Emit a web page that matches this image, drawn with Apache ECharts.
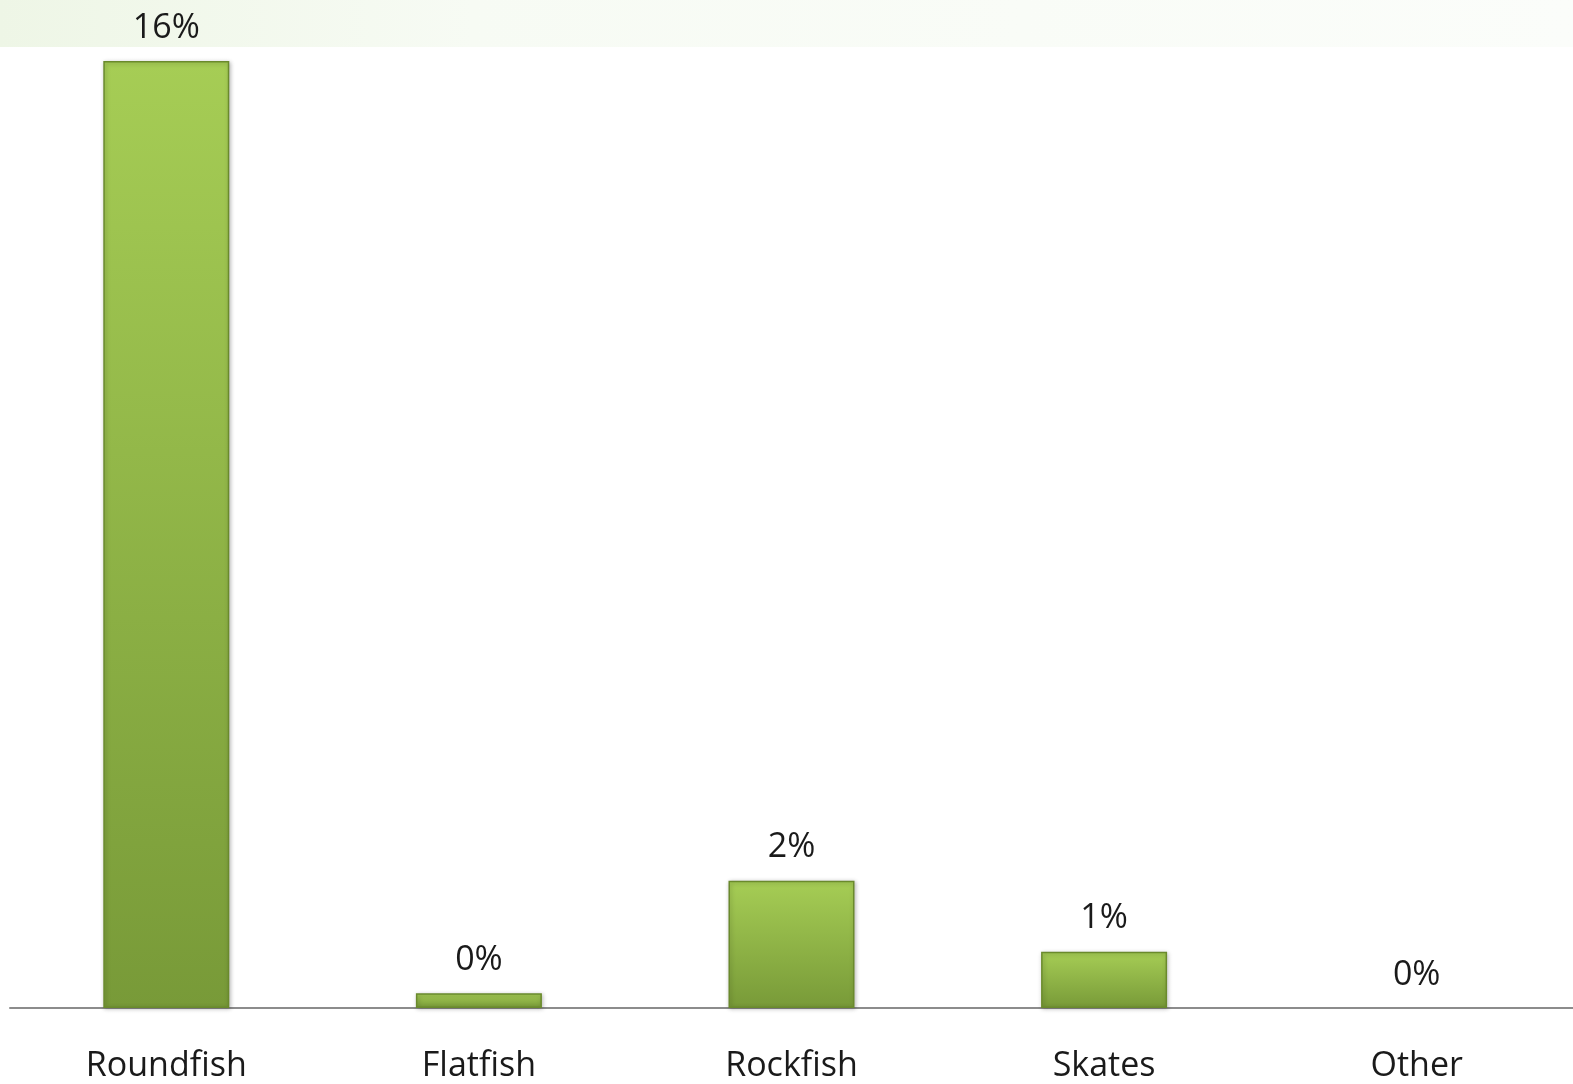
<!DOCTYPE html>
<html>
<head>
<meta charset="utf-8">
<script src="https://cdn.jsdelivr.net/npm/echarts@6/dist/echarts.min.js"></script>
<style>
html,body{margin:0;padding:0;background:#fff;}
#c{width:1573px;height:1084px;}
</style>
</head>
<body>
<div id="c"></div>
<script>
const categories = ['Roundfish', 'Flatfish', 'Rockfish', 'Skates', 'Other'];
const values = [16, 0.25, 2.15, 0.95, 0];
const valueLabels = ['16%', '0%', '2%', '1%', '0%'];

const chart = echarts.init(document.getElementById('c'));
chart.setOption({
  backgroundColor: '#ffffff',
  animation: false,
  graphic: [{
    type: 'rect',
    left: 0, top: 0,
    shape: { width: 1573, height: 47 },
    style: {
      fill: new echarts.graphic.LinearGradient(0, 0, 1, 0, [
        { offset: 0, color: '#eef6e6' },
        { offset: 0.3, color: '#f7fbf4' },
        { offset: 1, color: '#fbfdfa' }
      ])
    },
    z: -10
  }],
  grid: { left: 10, right: 0, top: 61, bottom: 76 },
  xAxis: {
    type: 'category',
    data: categories,
    axisLine: { lineStyle: { color: '#8c8c8c', width: 2 } },
    axisTick: { show: false },
    axisLabel: { fontFamily: 'Open Sans', fontSize: 34, color: '#1a1a1a', margin: 41 }
  },
  yAxis: {
    type: 'value',
    min: 0,
    max: 16,
    show: false,
    splitLine: { show: false }
  },
  series: [{
    type: 'bar',
    data: values.map(v => v === 0 ? { value: v, itemStyle: { borderWidth: 0, shadowBlur: 0, opacity: 0 } } : v),
    barWidth: 126,
    itemStyle: {
      color: new echarts.graphic.LinearGradient(0, 0, 0, 1, [
        { offset: 0, color: '#a6cd55' },
        { offset: 1, color: '#789a38' }
      ]),
      borderColor: '#6a8a2c',
      borderWidth: 1.5,
      shadowColor: 'rgba(0,0,0,0.25)',
      shadowBlur: 4,
      shadowOffsetX: 1,
      shadowOffsetY: 1
    },
    label: {
      show: true,
      position: 'top',
      distance: 16,
      fontFamily: 'Open Sans',
      fontSize: 34,
      color: '#1a1a1a',
      opacity: 1,
      formatter: p => valueLabels[p.dataIndex]
    }
  }]
});
</script>
</body>
</html>
